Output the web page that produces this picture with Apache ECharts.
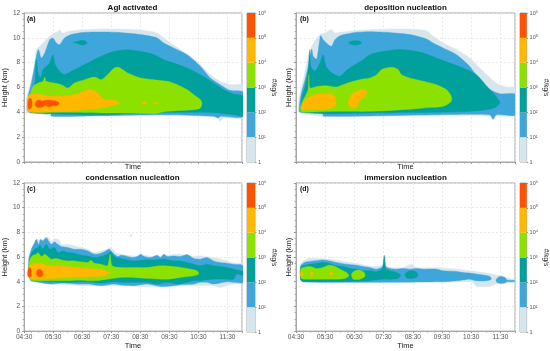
<!DOCTYPE html>
<html><head><meta charset="utf-8">
<script src="https://cdn.jsdelivr.net/npm/echarts@6/dist/echarts.min.js"></script>
<style>html,body{margin:0;padding:0;background:#fff}#c{width:550px;height:351px}</style>
</head><body><div id="c"></div><script>
// ---- scales / labels ----
const levelColors = ['#d6e6ec', '#3ea6da', '#00a09c', '#8de100', '#ffb700', '#ff5200'];
const cbTickLabels = ['1', '10¹', '10²', '10³', '10⁴', '10⁵', '10⁶'];
const timeTicks = ['04:30', '05:30', '06:30', '07:30', '08:30', '09:30', '10:30', '11:30'];
const panelTitles = ['AgI activated', 'deposition nucleation', 'condensation nucleation', 'immersion nucleation'];
const panelTags = ['(a)', '(b)', '(c)', '(d)'];
// x values: hours since 04:30 ; y values: height in km

// ---- (a) AgI activated ----
const a_l0 = [[0.08,3.95],[0.08,5.15],[0.19,6.09],[0.31,7.17],[0.42,9.05],[0.54,9.32],[0.71,9.72],[0.88,10.12],[1.05,10.39],[1.16,10.52],[1.22,10.66],[1.33,10.39],[1.51,10.52],[2.08,10.66],[3.22,10.71],[4.13,10.60],[4.58,10.39],[4.81,9.99],[5.04,9.58],[5.38,9.05],[5.72,8.51],[6.07,7.84],[6.41,7.03],[6.75,6.50],[7.09,6.23],[7.55,6.15],[7.55,3.62],[6.86,3.54],[6.75,3.28],[6.64,3.62],[4.93,3.73],[2.65,3.73],[0.93,3.73],[0.25,3.95]];
const a_l1 = [[0.11,4.21],[0.14,5.29],[0.25,6.36],[0.36,7.70],[0.46,8.91],[0.50,9.05],[0.59,8.38],[0.71,8.78],[0.88,9.85],[0.99,9.99],[1.11,9.58],[1.22,9.45],[1.39,9.99],[1.62,10.26],[2.08,10.44],[2.65,10.47],[3.22,10.44],[4.01,10.26],[4.58,9.99],[4.81,9.58],[5.15,9.18],[5.61,8.64],[6.07,7.70],[6.41,6.77],[6.75,6.23],[7.09,5.77],[7.55,5.61],[7.55,3.68],[6.75,3.68],[6.69,3.54],[6.52,3.68],[4.93,3.81],[2.65,3.73],[0.93,3.68],[0.93,3.95],[0.31,4.00],[0.14,4.08]];
const a_l2blob = [[1.70,9.62],[1.85,9.72],[1.96,9.80],[2.10,9.75],[2.17,9.60],[2.08,9.45],[1.96,9.42],[1.85,9.55]];
const a_l2 = [[0.14,4.08],[0.14,4.21],[0.19,5.02],[0.36,6.09],[0.42,8.24],[0.48,7.17],[0.57,6.77],[0.65,7.44],[0.76,7.70],[0.88,7.97],[0.99,8.64],[1.07,7.84],[1.22,7.30],[1.39,7.03],[1.62,7.30],[1.96,7.70],[2.30,8.11],[2.65,8.51],[3.10,8.91],[3.56,9.05],[4.01,8.91],[4.47,8.64],[4.81,8.24],[5.15,7.97],[5.61,7.57],[6.07,7.03],[6.52,6.36],[6.86,5.83],[7.21,5.48],[7.55,5.29],[7.55,3.73],[7.21,3.81],[6.64,3.95],[5.50,4.00],[3.79,3.95],[3.00,3.81],[2.08,3.81],[0.93,3.89],[0.25,3.95]];
const a_l3 = [[0.14,4.08],[0.11,4.48],[0.19,5.29],[0.31,6.09],[0.48,6.36],[0.65,6.50],[0.71,6.85],[0.76,6.50],[1.05,6.36],[1.28,6.23],[1.51,5.96],[1.73,6.36],[2.08,6.63],[2.42,6.85],[2.65,6.63],[2.87,7.03],[3.10,7.57],[3.27,7.62],[3.39,7.44],[3.56,7.17],[4.01,6.77],[4.47,6.63],[4.93,6.50],[5.27,6.23],[5.61,5.83],[5.84,5.42],[6.07,5.02],[6.12,4.75],[6.07,4.35],[5.84,4.21],[4.93,4.08],[4.47,3.89],[3.79,3.95],[2.65,3.95],[1.51,4.00],[0.36,4.00]];
const a_l4 = [[0.14,4.08],[0.11,5.02],[0.19,5.42],[0.36,5.50],[0.59,5.42],[0.93,5.29],[1.51,5.34],[1.85,5.50],[2.08,5.69],[2.30,5.83],[2.53,5.56],[2.76,5.02],[2.99,5.02],[3.22,4.89],[3.27,4.70],[2.99,4.54],[2.65,4.35],[2.08,4.21],[1.51,4.08],[0.36,4.00]];
const a_l4dot1 = [[4.05,4.75],[4.13,4.87],[4.22,4.75],[4.13,4.63]];
const a_l4dot2 = [[4.45,4.75],[4.53,4.82],[4.62,4.75],[4.53,4.68]];
const a_l5a = [[0.13,4.60],[0.16,5.05],[0.22,5.15],[0.27,4.90],[0.26,4.45],[0.20,4.25],[0.15,4.30]];
const a_l5b = [[0.38,4.60],[0.42,4.90],[0.52,5.00],[0.62,4.90],[0.72,4.95],[0.85,5.00],[0.98,4.95],[1.10,4.90],[1.20,4.75],[1.15,4.55],[1.00,4.55],[0.85,4.45],[0.72,4.55],[0.60,4.40],[0.45,4.40]];

// ---- (b) deposition nucleation ----
const b_l0 = [[0.08,4.08],[0.11,5.29],[0.25,6.63],[0.42,8.51],[0.54,9.32],[0.82,10.26],[0.99,10.39],[1.22,10.66],[1.33,10.39],[1.51,10.44],[2.08,10.60],[2.53,10.66],[3.67,10.71],[4.47,10.58],[4.70,10.12],[5.04,9.58],[5.50,9.05],[5.95,8.38],[6.41,7.30],[6.86,6.36],[7.21,6.04],[7.55,5.96],[7.55,3.81],[6.86,3.68],[6.75,3.36],[6.64,3.68],[4.81,3.73],[0.93,3.68],[0.14,3.95]];
const b_l1 = [[0.11,4.08],[0.16,5.29],[0.31,6.63],[0.42,7.70],[0.48,8.51],[0.54,9.10],[0.59,8.51],[0.71,8.30],[0.84,10.17],[0.93,9.85],[1.11,9.45],[1.22,9.32],[1.33,9.85],[1.51,10.17],[2.08,10.44],[2.53,10.50],[3.10,10.44],[3.90,10.26],[4.47,9.91],[4.70,9.58],[5.04,9.18],[5.50,8.64],[5.95,7.70],[6.29,6.63],[6.64,5.83],[6.98,5.50],[7.55,5.42],[7.55,3.81],[6.86,3.81],[6.75,3.46],[6.64,3.81],[4.81,3.81],[0.93,3.68],[0.93,3.89],[0.19,4.00]];
const b_l2blob = [[1.80,9.62],[1.95,9.75],[2.15,9.75],[2.25,9.60],[2.15,9.45],[1.95,9.42]];
const b_l2 = [[0.16,4.08],[0.19,5.02],[0.34,6.36],[0.42,7.44],[0.47,9.05],[0.51,7.70],[0.65,7.30],[0.82,7.97],[0.93,8.64],[1.03,7.70],[1.16,7.30],[1.33,7.03],[1.51,6.90],[1.73,7.38],[1.96,7.76],[2.30,8.24],[2.53,8.64],[2.99,8.91],[3.44,9.05],[3.90,8.99],[4.36,8.78],[4.81,8.38],[5.27,7.97],[5.72,7.57],[6.18,7.03],[6.52,6.15],[6.75,5.56],[6.98,4.81],[6.86,4.43],[6.52,4.21],[5.95,4.08],[4.81,4.00],[2.53,3.95],[0.93,3.89],[0.19,4.00]];
const b_l3 = [[0.16,4.08],[0.16,4.48],[0.25,5.02],[0.36,5.50],[0.42,5.88],[0.44,7.03],[0.48,5.96],[0.71,6.09],[1.05,6.15],[1.39,6.04],[1.62,6.23],[1.96,6.50],[2.30,6.68],[2.53,6.77],[2.76,7.03],[2.93,7.44],[3.10,7.57],[3.33,7.62],[3.50,7.44],[3.61,7.03],[3.90,6.77],[4.36,6.50],[4.81,6.23],[5.15,5.83],[5.32,5.29],[5.32,4.89],[5.04,4.48],[4.36,4.35],[3.67,4.21],[2.53,4.08],[1.39,4.08],[0.19,4.00]];
const b_l4a = [[0.19,4.48],[0.31,5.02],[0.48,5.29],[0.71,5.48],[1.05,5.50],[1.28,5.42],[1.37,5.02],[1.33,4.48],[1.05,4.27],[0.48,4.21],[0.19,4.21]];
const b_l4b = [[1.79,4.89],[1.90,5.42],[2.08,5.69],[2.36,5.88],[2.42,5.56],[2.30,5.15],[2.17,4.89],[2.10,4.48],[1.96,4.35],[1.82,4.54]];

// ---- (c) condensation nucleation ----
const c_l0 = [[0.14,5.02],[0.16,5.83],[0.25,6.63],[0.36,7.03],[0.48,7.44],[0.59,7.30],[0.71,7.57],[0.82,7.62],[0.93,7.30],[1.05,7.49],[1.22,7.36],[1.28,7.03],[1.51,7.03],[1.73,6.90],[1.96,6.77],[2.19,6.63],[2.42,6.36],[2.65,6.50],[2.87,6.63],[2.99,6.77],[3.16,6.36],[3.33,6.23],[3.56,6.15],[3.79,6.09],[4.13,6.15],[4.47,6.04],[4.93,6.15],[5.38,6.23],[5.72,6.04],[6.07,6.09],[6.52,5.96],[6.98,5.69],[7.21,5.50],[7.55,5.42],[7.55,3.95],[7.21,3.81],[6.75,3.54],[6.52,3.68],[6.07,3.68],[5.38,3.68],[4.93,3.62],[4.01,3.62],[3.22,3.68],[2.65,3.68],[2.08,3.68],[0.93,3.81],[0.36,4.08],[0.19,4.48]];
const c_l0dot = [[3.64,7.74],[3.67,7.86],[3.71,7.74],[3.67,7.62]];
const c_l1 = [[0.16,5.83],[0.25,6.63],[0.36,7.17],[0.42,7.44],[0.50,7.03],[0.57,7.44],[0.65,7.30],[0.76,7.57],[0.84,7.30],[0.93,7.03],[1.05,7.22],[1.16,7.03],[1.28,6.85],[1.51,6.77],[1.73,6.63],[1.96,6.63],[2.19,6.50],[2.42,6.23],[2.65,6.31],[2.76,6.42],[2.93,6.63],[3.04,6.36],[3.22,6.04],[3.33,6.15],[3.50,6.09],[3.73,5.96],[3.90,6.04],[4.01,6.23],[4.13,6.04],[4.36,5.96],[4.58,6.15],[4.70,5.96],[4.81,6.23],[4.93,6.04],[5.15,6.09],[5.38,6.04],[5.61,6.20],[5.84,5.88],[6.07,5.83],[6.29,5.96],[6.52,5.69],[6.75,5.56],[6.98,5.50],[7.21,5.42],[7.55,5.29],[7.55,3.95],[7.21,3.95],[6.98,4.00],[6.52,3.81],[6.29,3.95],[6.07,3.95],[5.84,3.81],[5.38,3.76],[5.15,3.68],[4.70,3.62],[4.24,3.81],[3.79,3.68],[3.33,3.73],[3.10,3.81],[2.65,3.68],[2.19,3.81],[1.85,3.81],[1.28,3.89],[0.93,3.81],[0.36,4.00],[0.23,4.08],[0.16,4.62]];
const c_l2 = [[0.19,5.83],[0.27,6.36],[0.36,6.63],[0.48,6.77],[0.54,6.95],[0.65,6.63],[0.76,7.03],[0.88,6.63],[1.05,6.77],[1.16,6.36],[1.33,6.50],[1.51,6.36],[1.73,6.31],[1.96,6.15],[2.19,6.09],[2.42,5.96],[2.65,6.04],[2.87,6.23],[2.99,6.42],[3.10,6.04],[3.33,5.88],[3.56,5.77],[3.79,5.69],[4.13,5.77],[4.47,5.77],[4.81,5.83],[5.15,5.69],[5.38,5.69],[5.61,5.56],[5.84,5.42],[6.07,5.29],[6.29,5.42],[6.52,5.29],[6.75,5.23],[6.98,5.15],[7.21,5.02],[7.43,4.89],[7.55,4.81],[7.55,4.48],[7.32,4.62],[7.21,4.21],[6.98,4.21],[6.52,4.21],[6.29,4.16],[6.07,4.08],[5.84,4.08],[5.61,3.95],[5.27,3.81],[4.93,3.95],[4.58,3.81],[4.24,3.95],[3.79,3.95],[3.33,3.95],[3.10,4.00],[2.65,3.89],[2.19,4.00],[1.51,3.95],[0.93,4.00],[0.36,4.08],[0.23,4.21]];
const c_l3 = [[0.16,5.42],[0.23,5.96],[0.31,6.15],[0.42,6.23],[0.48,6.36],[0.59,6.04],[0.71,6.23],[0.82,6.04],[0.93,5.83],[1.11,5.88],[1.28,5.77],[1.51,5.69],[1.73,5.69],[1.96,5.61],[2.19,5.56],[2.30,5.75],[2.42,5.50],[2.65,5.42],[2.87,5.29],[2.96,6.23],[3.03,5.29],[3.33,5.15],[3.79,5.15],[4.24,5.15],[4.70,5.29],[5.15,5.23],[5.61,5.07],[5.95,4.89],[6.01,4.62],[5.84,4.48],[5.38,4.35],[4.93,4.21],[4.24,4.27],[3.79,4.35],[3.33,4.35],[2.87,4.21],[2.42,4.08],[1.85,4.13],[1.51,4.08],[0.93,4.08],[0.36,4.08],[0.19,4.21]];
const c_l4 = [[0.16,5.15],[0.25,5.42],[0.36,5.48],[0.59,5.48],[0.82,5.29],[1.16,5.29],[1.51,5.21],[1.85,5.15],[2.19,5.07],[2.53,5.02],[2.82,4.89],[2.87,4.62],[2.76,4.48],[2.53,4.43],[2.19,4.40],[1.51,4.35],[0.93,4.27],[0.36,4.21],[0.19,4.35]];
const c_l4dot = [[2.88,4.70],[2.92,4.82],[2.97,4.70],[2.92,4.58]];
const c_l5a = [[0.12,4.75],[0.15,5.10],[0.20,5.15],[0.25,4.90],[0.24,4.45],[0.18,4.35],[0.13,4.45]];
const c_l5b = [[0.42,4.70],[0.46,4.95],[0.54,5.00],[0.63,4.85],[0.64,4.55],[0.56,4.38],[0.46,4.45]];

// ---- (d) immersion nucleation ----
const d_l0 = [[0.14,5.42],[0.36,5.83],[0.82,5.88],[1.16,5.83],[1.73,5.61],[2.19,5.42],[2.65,5.23],[2.99,5.29],[3.22,5.15],[3.67,5.15],[3.96,5.42],[4.13,5.15],[4.81,5.13],[5.50,5.02],[5.95,4.89],[6.41,4.75],[6.86,4.54],[7.09,4.43],[7.55,4.08],[7.55,3.95],[7.09,3.89],[6.86,3.81],[6.64,3.62],[6.18,3.62],[6.07,3.95],[5.50,4.00],[5.04,3.95],[4.81,4.00],[2.53,3.95],[0.25,4.00],[0.16,4.21]];
const d_l1 = [[0.16,5.29],[0.25,5.50],[0.36,5.61],[0.59,5.69],[0.93,5.77],[1.16,5.69],[1.39,5.56],[1.73,5.42],[2.08,5.34],[2.30,5.23],[2.53,5.15],[2.76,5.02],[2.96,5.23],[3.03,6.15],[3.08,5.23],[3.22,5.07],[3.44,5.02],[3.67,5.07],[3.90,5.02],[4.13,5.07],[4.36,5.02],[4.81,5.02],[5.04,4.89],[5.50,4.83],[5.72,4.75],[5.95,4.70],[6.18,4.62],[6.41,4.54],[6.64,4.43],[6.69,4.21],[6.52,4.08],[6.18,4.08],[5.95,4.21],[5.50,4.08],[5.04,4.00],[2.53,3.95],[0.25,4.00],[0.16,4.21]];
const d_l1blob = [[6.86,4.21],[6.98,4.43],[7.15,4.35],[7.23,4.08],[7.15,3.89],[6.98,3.87],[6.86,4.00]];
const d_l1line = [[7.20,4.10],[7.55,4.10],[7.55,4.02],[7.20,4.02]];
const d_l2 = [[0.16,5.15],[0.25,5.29],[0.48,5.42],[0.71,5.50],[0.93,5.56],[1.16,5.48],[1.39,5.29],[1.62,5.23],[1.85,5.07],[2.08,5.02],[2.30,4.89],[2.53,4.89],[2.76,4.81],[2.96,5.07],[3.02,6.04],[3.07,5.07],[3.22,4.89],[3.44,4.75],[3.58,4.54],[3.50,4.27],[3.22,4.21],[2.99,4.21],[2.76,4.16],[2.53,4.08],[2.08,4.03],[1.39,4.00],[0.25,4.00],[0.16,4.16]];
const d_l2blob = [[3.73,4.62],[3.90,4.89],[4.10,4.81],[4.18,4.48],[4.01,4.27],[3.79,4.30]];
const d_l3a = [[0.16,5.02],[0.25,5.15],[0.48,5.23],[0.71,5.07],[0.93,5.15],[1.11,5.34],[1.28,5.29],[1.51,5.02],[1.73,4.75],[1.81,4.48],[1.68,4.27],[1.39,4.21],[0.82,4.21],[0.25,4.21],[0.16,4.35]];
const d_l3b = [[1.90,4.62],[2.02,4.89],[2.19,4.94],[2.34,4.75],[2.36,4.43],[2.19,4.21],[1.96,4.21]];
const d_l4a = [[0.14,4.62],[0.19,4.82],[0.24,4.62],[0.19,4.42]];
const d_l4b = [[0.49,4.62],[0.54,4.82],[0.59,4.62],[0.54,4.42]];
const d_l4c = [[1.15,4.67],[1.20,4.87],[1.25,4.67],[1.20,4.47]];

// draw order per panel: [level, polygon]
const panels = [
  [[0,a_l0],[1,a_l1],[2,a_l2blob],[2,a_l2],[3,a_l3],[4,a_l4],[4,a_l4dot1],[4,a_l4dot2],[5,a_l5a],[5,a_l5b]],
  [[0,b_l0],[1,b_l1],[2,b_l2blob],[2,b_l2],[3,b_l3],[4,b_l4a],[4,b_l4b]],
  [[0,c_l0],[0,c_l0dot],[1,c_l1],[2,c_l2],[3,c_l3],[4,c_l4],[4,c_l4dot],[5,c_l5a],[5,c_l5b]],
  [[0,d_l0],[1,d_l1],[1,d_l1blob],[1,d_l1line],[2,d_l2],[2,d_l2blob],[3,d_l3a],[3,d_l3b],[4,d_l4a],[4,d_l4b],[4,d_l4c]]
];

// ---- layout ----
const FONT = '"Liberation Sans", Arial, "DejaVu Sans", sans-serif';
const pos = [[23,13],[296,13],[23,183],[296,183]];
const PW = 219, PH = 149;
const cbLeft = [247, 520];

const grid = [], xAxis = [], yAxis = [], series = [], graphic = [];
pos.forEach((p, i) => {
  grid.push({left: p[0], top: p[1], width: PW, height: PH, show: true, borderColor: '#a8a8a8', borderWidth: 1, backgroundColor: 'transparent'});
  const showX = i >= 2, showY = (i % 2 === 0);
  xAxis.push({type: 'value', gridIndex: i, min: 0, max: 7.5, interval: 1,
    axisLine: {show: true, lineStyle: {color: '#a8a8a8'}},
    axisTick: {show: true, length: 2, lineStyle: {color: '#999'}},
    minorTick: {show: true, splitNumber: 4, length: 1.5, lineStyle: {color: '#aaa'}},
    splitLine: {show: true, lineStyle: {color: '#e4e4e4', type: [2, 2], width: 0.8}},
    axisLabel: {show: showX, fontSize: 6.5, color: '#555', fontFamily: FONT, margin: 3, showMaxLabel: false,
      formatter: v => (Number.isInteger(v) ? timeTicks[v] : '')},
    name: 'Time', nameLocation: 'middle', nameGap: showX ? 9 : 1,
    nameTextStyle: {fontSize: 7.5, color: '#222', fontFamily: FONT}});
  yAxis.push({type: 'value', gridIndex: i, min: 0, max: 12, interval: 2,
    axisLine: {show: true, lineStyle: {color: '#a8a8a8'}},
    axisTick: {show: true, length: 2, lineStyle: {color: '#999'}},
    minorTick: {show: true, splitNumber: 4, length: 1.5, lineStyle: {color: '#aaa'}},
    splitLine: {show: true, lineStyle: {color: '#e4e4e4', type: [2, 2], width: 0.8}},
    axisLabel: {show: showY, fontSize: 6.5, color: '#555', fontFamily: FONT, margin: 4},
    name: 'Height (km)', nameLocation: 'middle', nameGap: showY ? 11 : 3,
    nameTextStyle: {fontSize: 7.5, color: '#222', fontFamily: FONT}});
  const polys = panels[i];
  series.push({type: 'custom', xAxisIndex: i, yAxisIndex: i, clip: true, silent: true,
    data: polys.map(q => q[1][0]),
    renderItem: (params, api) => {
      const q = polys[params.dataIndex];
      const pts = q[1].map(pt => api.coord(pt));
      return {type: 'polygon', shape: {points: pts, smooth: 0.25},
        style: {fill: levelColors[q[0]], stroke: levelColors[q[0]], lineWidth: 0.4}};
    }});
  // title and tag
  graphic.push({type: 'text', x: p[0] + PW / 2, y: p[1] - 5,
    style: {text: panelTitles[i], font: 'bold 8px ' + FONT, fill: '#111', textAlign: 'center', textVerticalAlign: 'middle'}});
  graphic.push({type: 'text', x: p[0] + 4, y: p[1] + 6,
    style: {text: panelTags[i], font: 'bold 7px ' + FONT, fill: '#111', textAlign: 'left', textVerticalAlign: 'middle'}});
});

// colorbars
pos.forEach((p, i) => {
  const gi = 4 + i;
  grid.push({left: cbLeft[i % 2], top: p[1], width: 8, height: PH, show: true, borderColor: '#a8a8a8', borderWidth: 1});
  xAxis.push({type: 'category', gridIndex: gi, data: [''], show: false});
  yAxis.push({type: 'value', gridIndex: gi, min: 0, max: 6, interval: 1, position: 'right',
    axisLine: {show: false}, splitLine: {show: false},
    axisTick: {show: true, length: 1.5, lineStyle: {color: '#999'}},
    axisLabel: {fontSize: 5.5, color: '#555', fontFamily: FONT, margin: 3, formatter: v => cbTickLabels[v]},
    name: '#/kg/s', nameLocation: 'middle', nameRotate: -90, nameGap: 15,
    nameTextStyle: {fontSize: 6.5, color: '#222', fontFamily: FONT}});
  series.push({type: 'custom', xAxisIndex: gi, yAxisIndex: gi, silent: true,
    data: levelColors.map((c, k) => [0, k]),
    renderItem: (params, api) => {
      const k = api.value(1);
      const lo = api.coord([0, k]), hi = api.coord([0, k + 1]);
      const cs = params.coordSys;
      return {type: 'rect', shape: {x: cs.x, y: hi[1], width: cs.width, height: lo[1] - hi[1]},
        style: {fill: levelColors[k]}};
    }});
});

const chart = echarts.init(document.getElementById('c'), null, {renderer: 'canvas'});
chart.setOption({animation: false, backgroundColor: '#fff', grid, xAxis, yAxis, series, graphic});
</script></body></html>
